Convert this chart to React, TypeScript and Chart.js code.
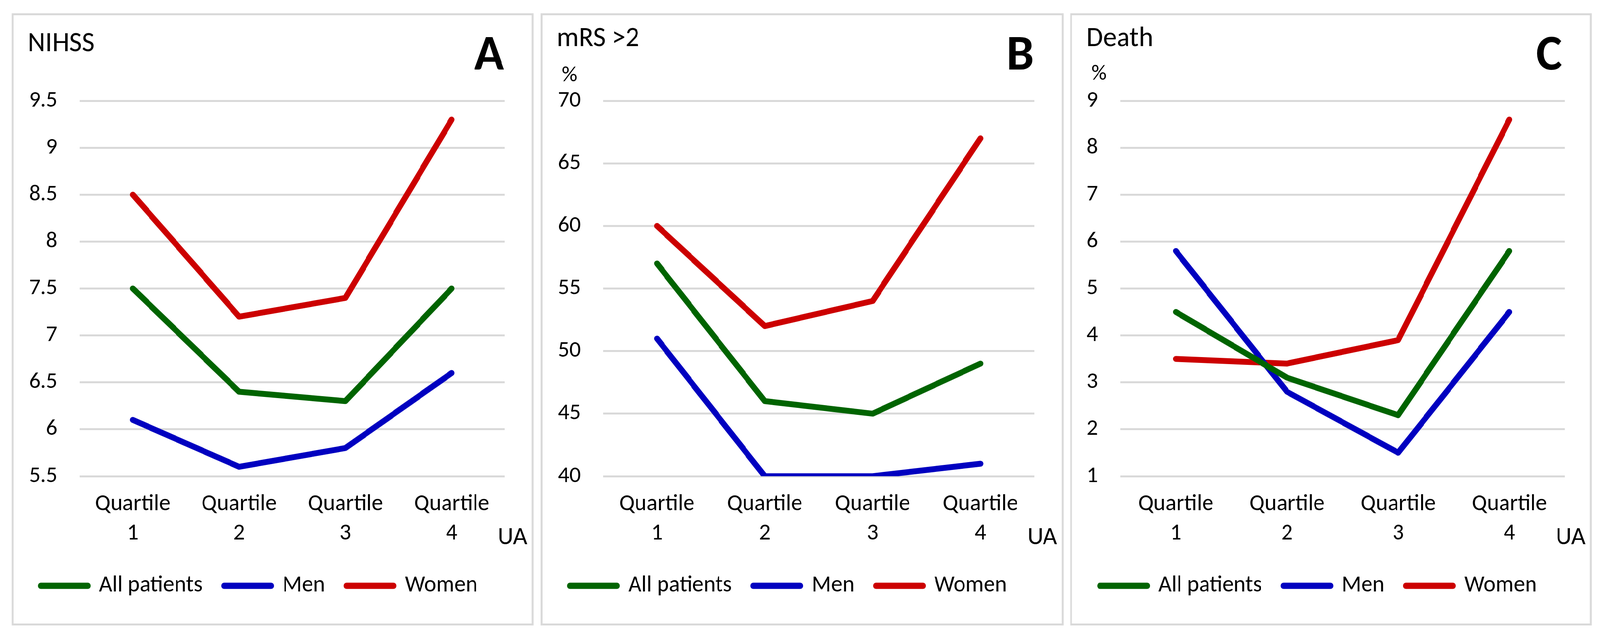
import React, { useEffect, useRef } from "react";
import { Chart, registerables } from "chart.js";
Chart.register(...registerables);

// ---------- data ----------
const categories = [["Quartile", "1"], ["Quartile", "2"], ["Quartile", "3"], ["Quartile", "4"]];
const seriesNames = ["All patients", "Men", "Women"];
const seriesColors = ["#006400", "#0000C0", "#CC0000"];

const nihssAll = [7.5, 6.4, 6.3, 7.5];
const nihssMen = [6.1, 5.6, 5.8, 6.6];
const nihssWomen = [8.5, 7.2, 7.4, 9.3];

const mrsAll = [57, 46, 45, 49];
const mrsMen = [51, 40, 40, 41];
const mrsWomen = [60, 52, 54, 67];

const deathAll = [4.5, 3.1, 2.3, 5.8];
const deathMen = [5.8, 2.8, 1.5, 4.5];
const deathWomen = [3.5, 3.4, 3.9, 8.6];

const panelTitles = ["NIHSS", "mRS >2", "Death"];
const panelLetters = ["A", "B", "C"];
const panelUnits = ["", "%", "%"];
const xAxisUnit = "UA";
const yMins = [5.5, 40, 1];
const yMaxs = [9.5, 70, 9];
const ySteps = [0.5, 5, 1];

const FONT = "Carlito, Lato, 'Liberation Sans', sans-serif";

// ---------- layout (positions / sizes only) ----------
const PAGE_W = 4155;
const PAGE_H = 1628;
const panelBoxes = [
  { left: 30, top: 34, width: 1356, height: 1567, chartLeft: 172, padRight: 70, titleY: 92, unitY: 0 },
  { left: 1404, top: 34, width: 1358, height: 1567, chartLeft: 157, padRight: 71, titleY: 79, unitY: 169 },
  { left: 2779, top: 34, width: 1355, height: 1567, chartLeft: 125, padRight: 65, titleY: 79, unitY: 165 },
];
const BORDER = 5;

const panelTextPlugin = {
  id: "panelText",
  afterDraw(chart: any, _args: any, opts: any) {
    const ctx = chart.ctx;
    const W = chart.width;
    ctx.save();
    ctx.fillStyle = "#000";
    ctx.textBaseline = "alphabetic";
    ctx.textAlign = "left";
    ctx.font = `71px ${FONT}`;
    ctx.fillText(opts.title, 37, opts.titleY);
    if (opts.unit) {
      ctx.font = `56px ${FONT}`;
      ctx.fillText(opts.unit, 50, opts.unitY);
    }
    ctx.font = `bold 128px ${FONT}`;
    ctx.textAlign = "right";
    ctx.fillText(opts.letter, W - 72, 139);
    ctx.font = `64px ${FONT}`;
    ctx.textAlign = "right";
    ctx.fillText(opts.axisUnit, W - 12, 1354);
    ctx.restore();
  },
};

function Panel({ idx, series }: { idx: number; series: number[][] }) {
  const ref = useRef<HTMLCanvasElement | null>(null);
  const box = panelBoxes[idx];
  const w = box.width - 2 * BORDER;
  const h = box.height - 2 * BORDER;

  useEffect(() => {
    if (!ref.current) return;
    const chart = new Chart(ref.current, {
      type: "line",
      data: {
        labels: categories as any,
        datasets: series.map((vals, i) => ({
          label: seriesNames[i],
          data: vals,
          borderColor: seriesColors[i],
          backgroundColor: seriesColors[i],
          borderWidth: 15,
          borderCapStyle: "round",
          borderJoinStyle: "round",
          pointRadius: 0,
          pointHoverRadius: 0,
          tension: 0,
        })),
      },
      options: {
        animation: false,
        responsive: false,
        devicePixelRatio: 1,
        events: [],
        layout: { padding: { top: 219, right: box.padRight, bottom: 57, left: 0 } },
        scales: {
          x: {
            offset: true,
            grid: { display: false, drawTicks: false },
            border: { display: false },
            ticks: {
              color: "#000",
              font: { family: FONT, size: 59, lineHeight: 1.27 },
              padding: 35,
              maxRotation: 0,
              autoSkip: false,
            },
            afterFit: (s: any) => {
              s.height = 195;
            },
          },
          y: {
            min: yMins[idx],
            max: yMaxs[idx],
            grid: { color: "#D9D9D9", lineWidth: 5, drawTicks: false },
            border: { display: false },
            ticks: {
              stepSize: ySteps[idx],
              color: "#000",
              font: { family: FONT, size: 58 },
              padding: 58,
              callback: (v: any) => String(Math.round(Number(v) * 10) / 10),
            },
            afterFit: (s: any) => {
              s.width = box.chartLeft;
            },
          },
        },
        plugins: {
          legend: {
            display: true,
            position: "bottom",
            labels: {
              color: "#000",
              font: { family: FONT, size: 59 },
              boxWidth: 122,
              boxHeight: 1,
              padding: 56,
            },
          },
          tooltip: { enabled: false },
          panelText: {
            title: panelTitles[idx],
            letter: panelLetters[idx],
            unit: panelUnits[idx],
            axisUnit: xAxisUnit,
            titleY: box.titleY,
            unitY: box.unitY,
          },
        } as any,
      },
      plugins: [panelTextPlugin],
    } as any);
    return () => chart.destroy();
  }, []);

  return (
    <div
      style={{
        position: "absolute",
        left: box.left,
        top: box.top,
        width: box.width,
        height: box.height,
        border: `${BORDER}px solid #D9D9D9`,
        boxSizing: "border-box",
        background: "#fff",
      }}
    >
      <canvas ref={ref} width={w} height={h} style={{ display: "block", width: w, height: h }} />
    </div>
  );
}

export default function App() {
  const vw = typeof window !== "undefined" ? window.innerWidth : PAGE_W;
  const sx = Math.min(1, vw / PAGE_W);
  return (
    <div
      style={{
        position: "absolute",
        left: 0,
        top: 0,
        width: PAGE_W,
        height: PAGE_H,
        background: "#fff",
        transform: `scale(${sx}, 1)`,
        transformOrigin: "0 0",
      }}
    >
      <Panel idx={0} series={[nihssAll, nihssMen, nihssWomen]} />
      <Panel idx={1} series={[mrsAll, mrsMen, mrsWomen]} />
      <Panel idx={2} series={[deathAll, deathMen, deathWomen]} />
    </div>
  );
}
